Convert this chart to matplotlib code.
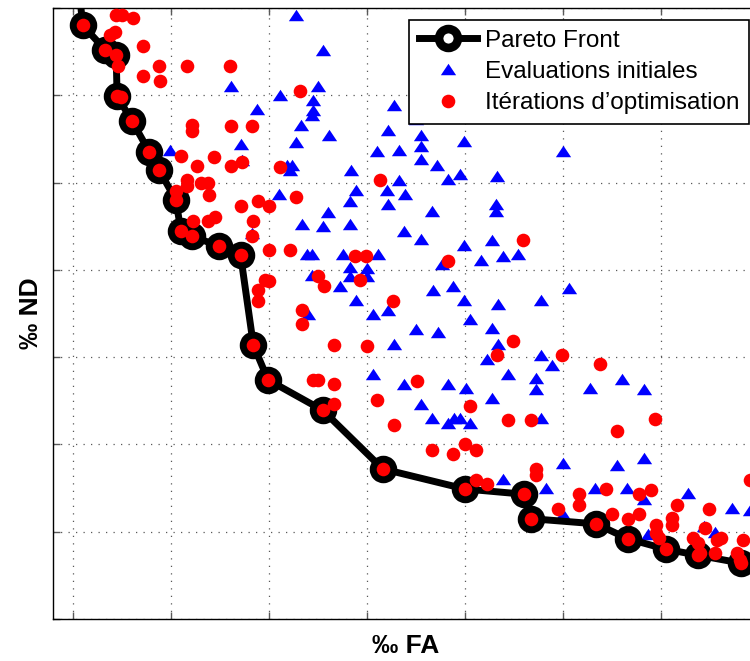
import numpy as np
import matplotlib
matplotlib.use('Agg')
import matplotlib.pyplot as plt

plt.rcParams['font.family'] = ['Liberation Sans', 'DejaVu Sans']

# Pareto front (x = FA, y = ND), grid units; first/last points lie outside the view
front_x = [0.05, 0.10, 0.33, 0.44, 0.45, 0.60, 0.78, 0.88, 1.05, 1.10, 1.21, 1.49, 1.71,
           1.84, 1.99, 2.55, 3.16, 4.00, 4.60, 4.67, 5.34, 5.66, 6.05, 6.38, 6.82, 7.32]
front_y = [7.32, 6.80, 6.52, 6.46, 5.99, 5.71, 5.35, 5.14, 4.80, 4.45, 4.39, 4.27, 4.17,
           3.14, 2.74, 2.39, 1.72, 1.49, 1.43, 1.15, 1.09, 0.92, 0.80, 0.73, 0.64, 0.54]

# Initial evaluations (blue triangles)
init_x = [2.28, 2.55, 1.61, 2.50, 2.11, 2.45, 1.88, 2.45, 2.44, 3.28, 3.50, 2.33, 3.21, 2.61,
          3.55, 2.28, 3.99, 1.71, 0.99, 3.10, 3.33, 5.00, 1.72, 3.55, 3.55, 2.18, 2.23, 2.21,
          3.71, 2.84, 3.95, 4.33, 3.83, 3.33, 2.10, 2.89, 3.20, 3.39, 2.83, 3.21, 4.32, 4.32,
          2.60, 3.66, 2.34, 2.55, 2.83, 3.38, 3.55, 1.83, 3.99, 4.28, 2.39, 2.44, 2.76, 3.11,
          4.16, 4.39, 4.54, 3.77, 2.83, 3.00, 2.44, 2.83, 3.00, 2.72, 3.67, 3.88, 5.06, 3.99,
          2.89, 4.34, 4.78, 2.40, 3.21, 3.06, 4.05, 3.50, 3.72, 4.28, 3.28, 4.34, 4.22, 4.78,
          4.89, 4.44, 3.06, 3.38, 3.83, 4.01, 4.72, 4.72, 5.28, 5.60, 5.83, 3.55, 4.28, 3.66,
          3.83, 3.89, 3.95, 4.05, 4.78, 4.39, 5.00, 5.55, 5.83, 4.83, 5.33, 5.65, 5.83, 6.28,
          6.72, 6.91, 5.00, 5.87, 6.44, 6.55]
init_y = [6.92, 6.52, 6.11, 6.11, 6.00, 5.95, 5.84, 5.83, 5.77, 5.89, 5.73, 5.66, 5.60, 5.54,
          5.54, 5.47, 5.48, 5.44, 5.37, 5.36, 5.37, 5.36, 5.26, 5.42, 5.27, 5.20, 5.20, 5.14,
          5.20, 5.14, 5.10, 5.08, 5.04, 5.03, 4.87, 4.92, 4.91, 4.87, 4.79, 4.75, 4.76, 4.68,
          4.66, 4.68, 4.52, 4.50, 4.52, 4.45, 4.35, 4.42, 4.29, 4.34, 4.18, 4.18, 4.18, 4.18,
          4.11, 4.16, 4.18, 4.07, 4.03, 4.02, 3.94, 3.93, 3.93, 3.82, 3.77, 3.82, 3.79, 3.65,
          3.65, 3.61, 3.65, 3.49, 3.54, 3.49, 3.44, 3.32, 3.29, 3.33, 3.15, 3.15, 2.98, 3.02,
          2.91, 2.81, 2.81, 2.69, 2.69, 2.65, 2.76, 2.63, 2.65, 2.75, 2.63, 2.46, 2.53, 2.30,
          2.24, 2.30, 2.30, 2.24, 2.30, 1.60, 1.79, 1.77, 1.84, 1.50, 1.50, 1.50, 1.37, 1.44,
          1.27, 1.25, 1.20, 0.97, 1.06, 1.00]

# Optimisation iterations (red dots), front points excluded
iter_x = [0.44, 0.50, 0.61, 0.43, 0.38, 0.71, 0.46, 0.88, 1.16, 1.60, 0.71, 0.89, 0.49, 1.21,
          1.21, 1.61, 1.83, 1.10, 1.44, 1.27, 1.61, 1.72, 2.11, 1.16, 1.31, 1.38, 1.16, 1.05,
          1.39, 1.71, 1.89, 2.00, 1.45, 1.38, 1.22, 1.84, 1.83, 2.00, 2.21, 1.96, 2.00, 1.89,
          1.89, 2.32, 2.28, 3.13, 2.88, 2.99, 2.50, 2.56, 2.93, 3.83, 3.27, 2.34, 2.34, 2.66,
          3.00, 4.59, 4.49, 4.33, 4.99, 5.38, 2.45, 2.50, 2.66, 2.66, 3.51, 3.10, 4.05, 4.44,
          3.28, 4.67, 5.94, 5.55, 3.66, 3.88, 4.00, 4.11, 4.11, 4.22, 4.72, 4.72, 4.95, 5.16,
          5.16, 5.44, 5.50, 5.66, 5.78, 5.78, 5.90, 5.95, 5.95, 5.98, 6.16, 6.11, 6.11, 6.49,
          6.45, 6.33, 6.38, 6.40, 6.55, 6.57, 6.61, 6.84, 6.78, 6.81, 6.91]
iter_y = [6.92, 6.92, 6.89, 6.73, 6.69, 6.56, 6.33, 6.33, 6.34, 6.34, 6.22, 6.16, 5.98, 5.66,
          5.59, 5.65, 5.65, 5.31, 5.29, 5.19, 5.19, 5.24, 5.18, 5.03, 5.00, 5.00, 4.96, 4.90,
          4.86, 4.73, 4.79, 4.73, 4.60, 4.56, 4.56, 4.56, 4.39, 4.23, 4.23, 3.88, 3.87, 3.77,
          3.64, 6.05, 4.84, 5.03, 4.16, 4.16, 3.93, 3.81, 3.88, 4.10, 3.64, 3.54, 3.38, 3.14,
          3.13, 4.34, 3.19, 3.02, 3.02, 2.92, 2.74, 2.74, 2.69, 2.46, 2.73, 2.51, 2.44, 2.28,
          2.22, 2.28, 2.29, 2.15, 1.94, 1.89, 2.00, 1.94, 1.59, 1.55, 1.72, 1.65, 1.26, 1.43,
          1.31, 1.49, 1.20, 1.15, 1.43, 1.20, 1.48, 1.08, 0.98, 0.93, 1.31, 1.16, 1.08, 1.26,
          1.04, 0.93, 0.87, 0.76, 0.76, 0.90, 0.93, 0.90, 0.76, 0.68, 1.59]

fig = plt.figure(figsize=(7.5, 6.61), dpi=100)
ax = fig.add_axes([0.0707, 0.0635, 0.9413, 0.9244])

tri = [(0, 0.75), (-1, -0.75), (1, -0.75)]

ax.plot(init_x, init_y, linestyle='none', marker=tri, ms=11, color='blue',
        mec='none', zorder=3, label='Evaluations initiales')
ax.plot(front_x, front_y, '-o', color='black', lw=5, ms=13.6, mew=6.2,
        mfc='white', mec='black', zorder=4, label='Pareto Front')

# front members are iterations too: red dots on top of the black rings
fx = np.array(front_x)
fy = np.array(front_y)
inside = (fx <= 7) & (fy <= 7)
all_x = np.concatenate([iter_x, fx[inside]])
all_y = np.concatenate([iter_y, fy[inside]])
ax.plot(all_x, all_y, linestyle='none', marker='o', ms=9.8, color='red',
        mec='none', zorder=5, label="Itérations d’optimisation")

ax.set_xlim(-0.204, 7.0)
ax.set_ylim(0, 7)
ax.set_xticks(np.arange(0, 8))
ax.set_yticks(np.arange(0, 8))
ax.set_xticklabels([])
ax.set_yticklabels([])
ax.tick_params(direction='in', length=5, width=1, color='0.35',
               top=True, right=True)
ax.grid(True, linestyle=(0, (1, 5)), linewidth=0.9, color='0.35')
ax.set_axisbelow(True)
for s in ax.spines.values():
    s.set_linewidth(1.0)

ax.set_xlabel('‰ FA', fontsize=19, fontweight='bold', labelpad=7)
ax.set_ylabel('‰ ND', fontsize=19, fontweight='bold', labelpad=4)

h, l = ax.get_legend_handles_labels()
order = [1, 0, 2]
leg = ax.legend([h[i] for i in order], [l[i] for i in order],
                loc='upper right', bbox_to_anchor=(749 / 750, 641 / 661),
                bbox_transform=fig.transFigure, borderaxespad=0,
                fontsize=17.5, numpoints=1, handlelength=2.4, handletextpad=0.3,
                borderpad=0.4, labelspacing=0.38, fancybox=False, framealpha=1)
leg.get_frame().set_edgecolor('black')
leg.get_frame().set_linewidth(1.2)
leg.set_zorder(10)

fig.savefig('out.png', dpi=100)
